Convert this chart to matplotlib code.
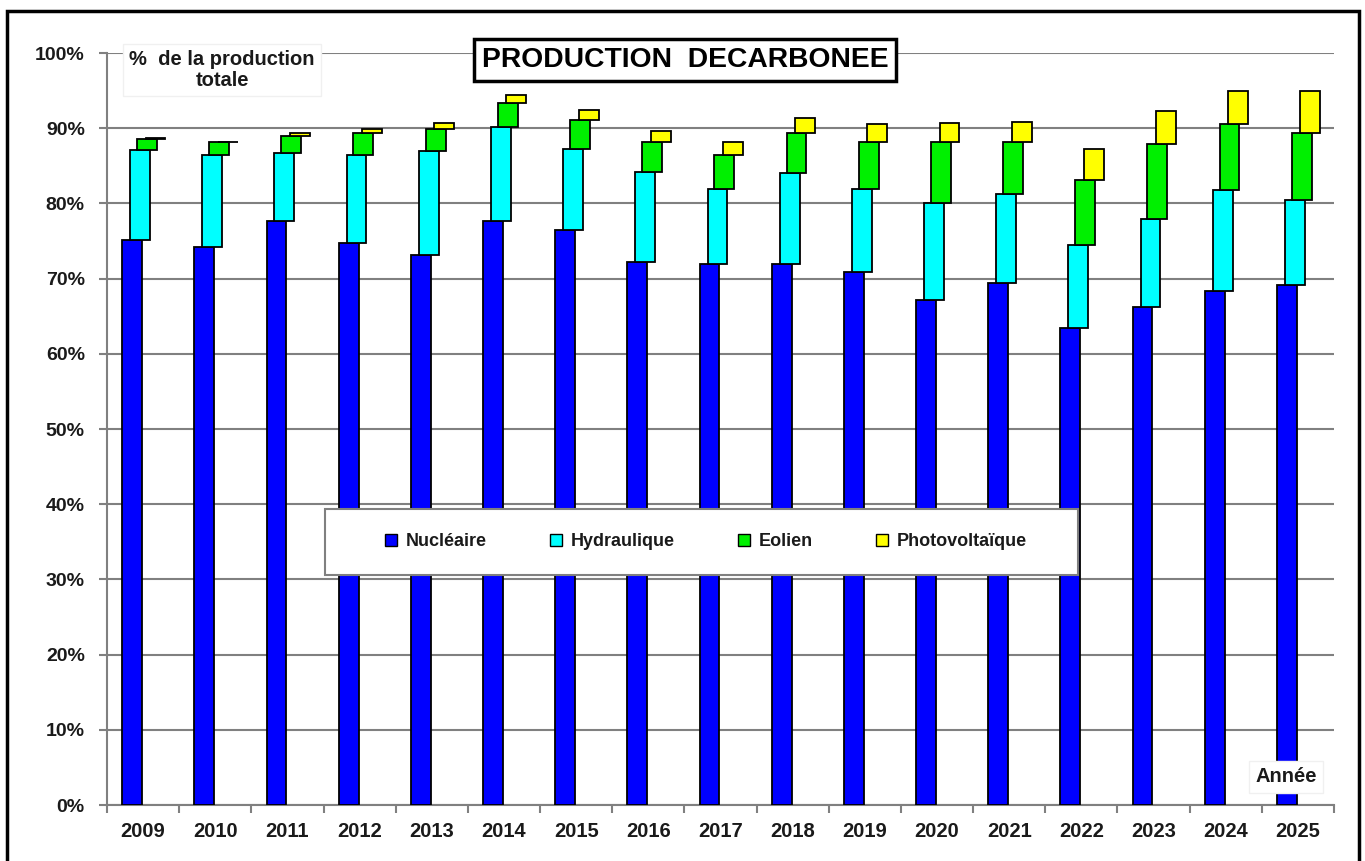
import matplotlib
matplotlib.use("Agg")
import matplotlib.pyplot as plt
from matplotlib.patches import Rectangle, Patch
from matplotlib.ticker import MultipleLocator, FuncFormatter
import numpy as np

years = ["2009", "2010", "2011", "2012", "2013", "2014", "2015", "2016", "2017",
         "2018", "2019", "2020", "2021", "2022", "2023", "2024", "2025"]
nucleaire = [75.1, 74.2, 77.6, 74.8, 73.2, 77.6, 76.4, 72.2, 71.9, 71.9, 70.9, 67.2, 69.4, 63.4, 66.2, 68.3, 69.1]
hydraulique = [12.0, 12.2, 9.1, 11.7, 13.8, 12.5, 10.8, 12.0, 10.0, 12.2, 11.0, 12.9, 11.8, 11.1, 11.7, 13.5, 11.3]
eolien = [1.5, 1.7, 2.3, 2.8, 2.9, 3.2, 3.9, 3.9, 4.5, 5.2, 6.3, 8.0, 6.9, 8.6, 10.0, 8.7, 9.0]
photovoltaique = [0.1, 0.1, 0.4, 0.6, 0.8, 1.1, 1.3, 1.5, 1.8, 2.0, 2.3, 2.6, 2.7, 4.1, 4.4, 4.4, 5.6]
series_names = ["Nucléaire", "Hydraulique", "Eolien", "Photovoltaïque"]
colors = ["#0000FF", "#00FFFF", "#00F000", "#FFFF00"]

plt.rcParams['font.family'] = ['Liberation Sans', 'DejaVu Sans']

W, H = 1365, 861
fig = plt.figure(figsize=(W / 100, H / 100), dpi=100)
ax = fig.add_axes([107 / W, 1 - 805 / H, (1334 - 107) / W, (805 - 53) / H])

x = np.arange(len(years))
series = [nucleaire, hydraulique, eolien, photovoltaique]
offsets = [-0.29, -0.18, -0.085, 0.035]
width = 0.275
bottom = np.zeros(len(years))
for vals, off, col in zip(series, offsets, colors):
    v = np.array(vals)
    ax.bar(x + off, v, width=width, bottom=bottom, align='edge', color=col,
           edgecolor='black', linewidth=1.3, zorder=3)
    bottom = bottom + v

ax.set_xlim(-0.5, len(years) - 0.5)
ax.set_ylim(0, 100)
ax.yaxis.set_major_locator(MultipleLocator(10))
ax.yaxis.set_major_formatter(FuncFormatter(lambda v, p: f"{int(round(v))}%"))
ax.grid(axis='y', color='#808080', linewidth=1.5, zorder=0)
ax.set_axisbelow(True)

ax.set_xticks(x)
ax.set_xticklabels(years)
ax.set_xticks(np.arange(-0.5, len(years)), minor=True)
ax.tick_params(axis='x', which='major', length=0, pad=12, labelsize=14.5)
ax.tick_params(axis='x', which='minor', length=6, width=1.5, color='#808080', direction='out')
ax.tick_params(axis='y', which='major', length=6, width=1.5, color='#808080', pad=10, labelsize=14)
for lab in ax.get_xticklabels() + ax.get_yticklabels():
    lab.set_fontweight('bold')
    lab.set_color('#1a1a1a')

for s in ['top', 'right']:
    ax.spines[s].set_visible(False)
for s in ['left', 'bottom']:
    ax.spines[s].set_color('#808080')
    ax.spines[s].set_linewidth(1.5)

# Outer border
fig.patches.append(Rectangle((7 / W, -0.02), (1359 - 7) / W, 1.02 - 11 / H,
                             transform=fig.transFigure, fill=False,
                             edgecolor='black', linewidth=2.5, zorder=10))

# Title
fig.text(685 / W, 1 - 60 / H, "PRODUCTION  DECARBONEE", ha='center', va='center',
         fontsize=20.3, fontweight='bold', color='black',
         bbox=dict(boxstyle='square,pad=0.28', facecolor='white', edgecolor='black', linewidth=2.5))

# Y axis label box
fig.text(222 / W, 1 - 70 / H, "%  de la production\ntotale", ha='center', va='center',
         fontsize=14.5, fontweight='bold', color='#1a1a1a', linespacing=1.1,
         bbox=dict(boxstyle='square,pad=0.3', facecolor='white', edgecolor='#f0f0f0', linewidth=1))

# X axis label
fig.text(1286 / W, 1 - 777 / H, "Année", ha='center', va='center',
         fontsize=14.5, fontweight='bold', color='#1a1a1a',
         bbox=dict(boxstyle='square,pad=0.3', facecolor='white', edgecolor='#f0f0f0', linewidth=1))

# Legend frame
fig.patches.append(Rectangle((325 / W, 1 - 575 / H), (1078 - 325) / W, (575 - 509) / H,
                             transform=fig.transFigure, facecolor='white',
                             edgecolor='#808080', linewidth=1.5, zorder=5))
handles = [Patch(facecolor=c, edgecolor='black', linewidth=1.0) for c in colors]
leg = fig.legend(handles, series_names, loc='center', bbox_to_anchor=(706 / W, 1 - 542 / H),
                 ncol=4, frameon=False, handlelength=0.65, handleheight=0.65,
                 handletextpad=0.5, columnspacing=3.5,
                 prop={'family': ['Liberation Sans', 'DejaVu Sans'], 'size': 13, 'weight': 'bold'})
leg.set_zorder(6)
for t in leg.get_texts():
    t.set_color('#1a1a1a')

fig.savefig("out.png", dpi=100)
